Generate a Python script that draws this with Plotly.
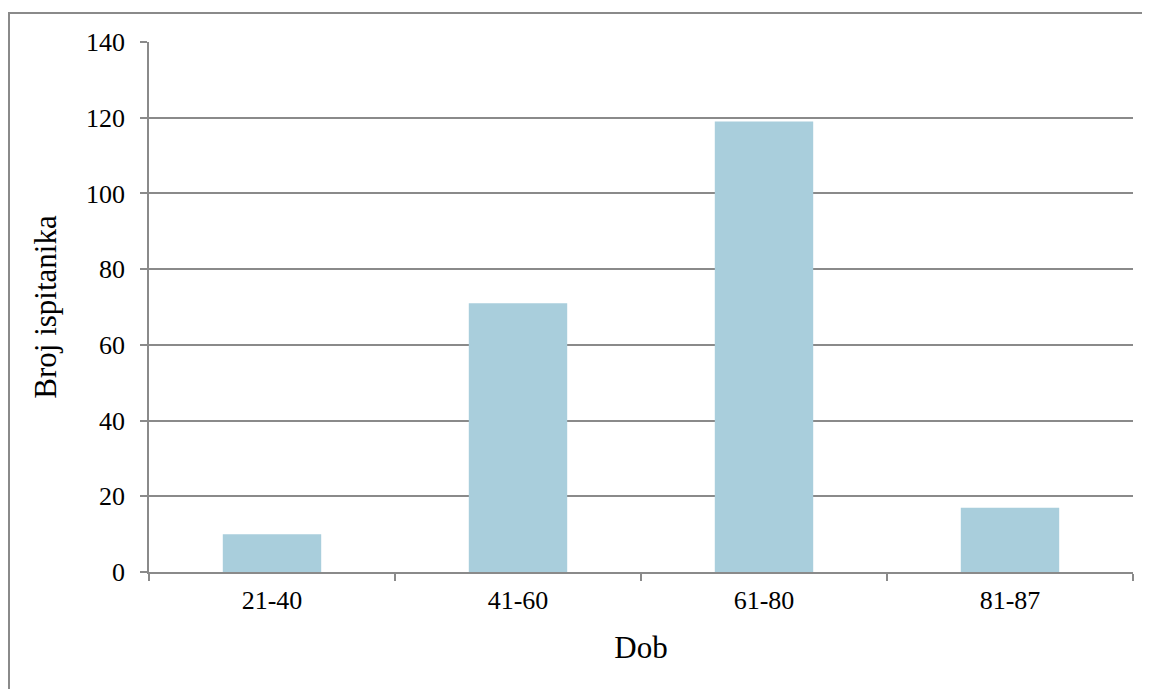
import plotly.graph_objects as go

categories = ["21-40", "41-60", "61-80", "81-87"]
values = [10, 71, 119, 17]
y_ticks = [0, 20, 40, 60, 80, 100, 120, 140]

GRAY = "#8a8a8a"
FONT = "Liberation Serif"

# page body has an 8px margin: plot area in figure coords
L, R, T, B = 141, 1125, 34, 564
W, H = 1150, 689

fig = go.Figure(
    go.Bar(x=categories, y=values, marker=dict(color="#A9CEDC", line=dict(width=0)),
           width=0.4)
)

fig.update_layout(
    width=W, height=H,
    margin=dict(l=L, r=W - R, t=T, b=H - B),
    paper_bgcolor="white", plot_bgcolor="white",
    font=dict(family=FONT, size=26, color="black"),
    showlegend=False,
    xaxis=dict(
        title=dict(text="Dob", font=dict(size=31), standoff=22),
        showline=True, linecolor=GRAY, linewidth=1.5,
        ticks="outside", tickson="boundaries", ticklen=7, tickcolor=GRAY, tickwidth=1.5,
        tickfont=dict(size=26), showgrid=False, ticklabelstandoff=4,
        range=[-0.5, 3.5],
    ),
    yaxis=dict(
        title=dict(text="Broj ispitanika", font=dict(size=31), standoff=20),
        range=[0, 140], tickvals=y_ticks,
        showline=True, linecolor=GRAY, linewidth=1.5,
        ticks="outside", ticklen=7, tickcolor=GRAY, tickwidth=1.5,
        showgrid=True, gridcolor=GRAY, gridwidth=1.5,
        zeroline=False, tickfont=dict(size=26), ticklabelstandoff=10,
    ),
    shapes=[dict(type="rect", xref="paper", yref="paper",
                 x0=(1 - L) / (R - L), x1=(1170 - L) / (R - L),
                 y0=(B - 720) / (B - T), y1=(B - 5) / (B - T),
                 line=dict(color=GRAY, width=2), fillcolor="rgba(0,0,0,0)", layer="below")],
)

fig.write_html("out.html")
